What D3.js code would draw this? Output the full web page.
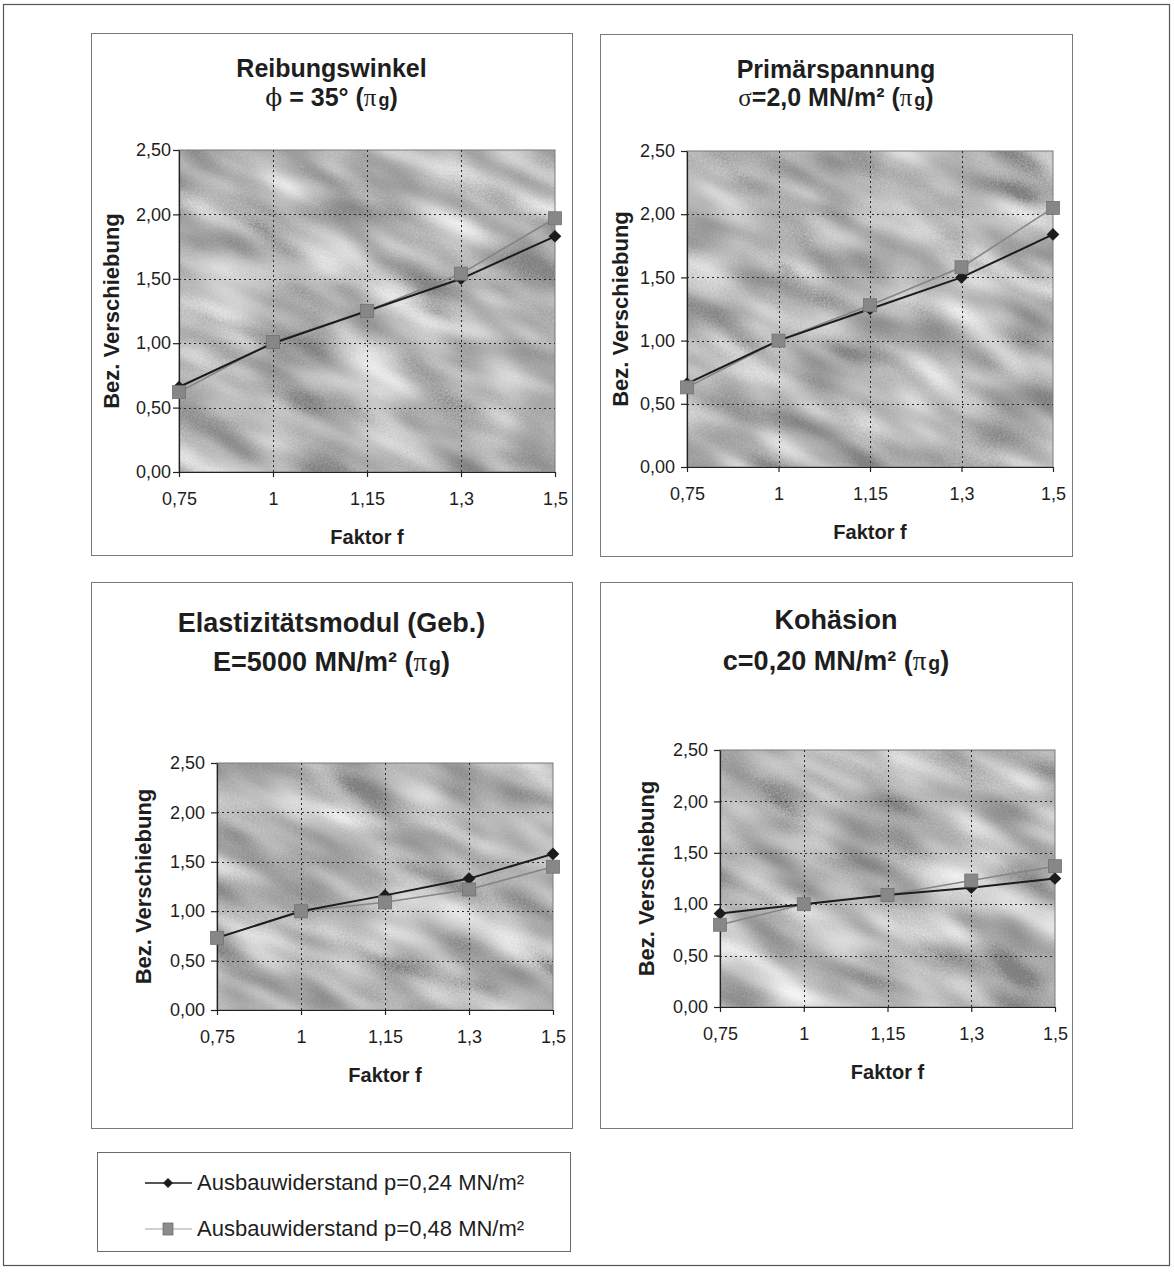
<!DOCTYPE html>
<html>
<head>
<meta charset="utf-8">
<script src="https://cdn.jsdelivr.net/npm/d3@7"></script>
<style>
  body { margin: 0; background: #fff; }
  text { font-family: "Liberation Sans", Arial, sans-serif; fill: #1e1e1e; }
</style>
</head>
<body>
<div id="chart"></div>
<script>
// Data
var factors = ["0,75", "1", "1,15", "1,3", "1,5"];
var yTicks = [0, 0.5, 1, 1.5, 2, 2.5];
var seriesNames = ["Ausbauwiderstand p=0,24 MN/m²", "Ausbauwiderstand p=0,48 MN/m²"];

var reibungP24 = [0.66, 1.00, 1.25, 1.50, 1.83];
var reibungP48 = [0.62, 1.01, 1.25, 1.54, 1.97];
var primaerP24 = [0.66, 1.00, 1.25, 1.50, 1.84];
var primaerP48 = [0.63, 1.00, 1.28, 1.58, 2.05];
var emodulP24 = [0.73, 1.00, 1.16, 1.33, 1.58];
var emodulP48 = [0.73, 1.00, 1.09, 1.22, 1.45];
var kohaesionP24 = [0.91, 1.00, 1.09, 1.16, 1.25];
var kohaesionP48 = [0.80, 1.00, 1.09, 1.23, 1.37];

var titles = ["Reibungswinkel", "Primärspannung", "Elastizitätsmodul (Geb.)", "Kohäsion"];
// second title line: pieces, sym = symbol glyph, small = small "g"
var subtitles = [
  [{t: "ϕ", sym: "DejaVu Serif"}, {t: " = 35° ("}, {t: "π", sym: "Liberation Serif"}, {t: "g", small: true}, {t: ")"}],
  [{t: "σ", sym: "Liberation Serif"}, {t: "=2,0 MN/m² ("}, {t: "π", sym: "Liberation Serif"}, {t: "g", small: true}, {t: ")"}],
  [{t: "E=5000 MN/m² ("}, {t: "π", sym: "Liberation Serif"}, {t: "g", small: true}, {t: ")"}],
  [{t: "c=0,20 MN/m² ("}, {t: "π", sym: "Liberation Serif"}, {t: "g", small: true}, {t: ")"}]
];
var seriesA = [reibungP24, primaerP24, emodulP24, kohaesionP24];
var seriesB = [reibungP48, primaerP48, emodulP48, kohaesionP48];

// layout of the four panels
var layout = [
  {frame: [91, 33, 572, 555], plot: [179, 150, 555, 472], t1: 77, t2: 106, ts: 25, ypad: 2, ylab: 60},
  {frame: [600, 34, 1072, 556], plot: [687, 151, 1053, 467], t1: 78, t2: 106, ts: 25, ypad: 6, ylab: 59},
  {frame: [91, 582, 572, 1128], plot: [217, 763, 553, 1010], t1: 632, t2: 671, ts: 27, ypad: 6, ylab: 66},
  {frame: [600, 582, 1072, 1128], plot: [720, 750, 1055, 1007], t1: 629, t2: 670, ts: 27, ypad: 6, ylab: 66}
];

var svgWidth = 1174, svgHeight = 1281;
var fmt = d3.formatLocale({decimal: ",", thousands: ".", grouping: [3], currency: ["", " €"]}).format(".2f");

var svg = d3.select("#chart").append("svg")
  .attr("width", svgWidth)
  .attr("height", svgHeight);
var defs = svg.append("defs");

// outer frame
svg.append("rect")
  .attr("x", 3.5).attr("y", 4.5)
  .attr("width", 1166).attr("height", 1261)
  .attr("fill", "none").attr("stroke", "#555").attr("stroke-width", 1.2);

layout.forEach(function(L, i) {
  var x0 = L.plot[0], y0 = L.plot[1], x1 = L.plot[2], y1 = L.plot[3];
  var x = d3.scalePoint().domain(factors).range([x0, x1]);
  var y = d3.scaleLinear().domain([0, 2.5]).range([y1, y0]);
  var cx = (L.frame[0] + L.frame[2]) / 2;

  // panel frame
  svg.append("rect")
    .attr("x", L.frame[0] + 0.5).attr("y", L.frame[1] + 0.5)
    .attr("width", L.frame[2] - L.frame[0]).attr("height", L.frame[3] - L.frame[1])
    .attr("fill", "none").attr("stroke", "#7a7a7a").attr("stroke-width", 1);

  // titles
  svg.append("text")
    .attr("x", cx).attr("y", L.t1)
    .attr("text-anchor", "middle")
    .style("font-size", L.ts + "px").style("font-weight", "bold")
    .text(titles[i]);
  var sub = svg.append("text")
    .attr("x", cx).attr("y", L.t2)
    .attr("text-anchor", "middle")
    .style("font-size", L.ts + "px").style("font-weight", "bold");
  subtitles[i].forEach(function(s) {
    var ts = sub.append("tspan").text(s.t);
    if (s.sym) ts.style("font-family", "'" + s.sym + "', serif").style("font-weight", "normal");
    if (s.small) ts.style("font-size", (L.ts * 0.72) + "px").attr("dx", 2);
  });

  // textured plot background
  var w = x1 - x0, h = y1 - y0, diag = Math.hypot(w, h);
  defs.append("clipPath").attr("id", "clip" + i)
    .append("rect").attr("x", x0).attr("y", y0).attr("width", w).attr("height", h);
  var f = defs.append("filter").attr("id", "tex" + i)
    .attr("x", 0).attr("y", 0).attr("width", 1).attr("height", 1)
    .attr("color-interpolation-filters", "sRGB");
  f.append("feTurbulence").attr("type", "fractalNoise")
    .attr("baseFrequency", "0.011 0.03").attr("numOctaves", 2).attr("seed", 5 + i * 11).attr("result", "big");
  f.append("feTurbulence").attr("type", "fractalNoise")
    .attr("baseFrequency", "0.7").attr("numOctaves", 1).attr("seed", 2 + i).attr("result", "grain");
  f.append("feComposite").attr("in", "big").attr("in2", "grain").attr("operator", "arithmetic")
    .attr("k1", 0).attr("k2", 1).attr("k3", 0.28).attr("k4", -0.14).attr("result", "mix");
  f.append("feColorMatrix").attr("in", "mix").attr("type", "matrix")
    .attr("values", "0.6 0 0 0 0.5  0.6 0 0 0 0.5  0.6 0 0 0 0.5  0 0 0 0 1");
  svg.append("g").attr("clip-path", "url(#clip" + i + ")")
    .append("g").attr("transform", "rotate(25 " + (x0 + w / 2) + " " + (y0 + h / 2) + ")")
    .append("rect")
    .attr("x", x0 + w / 2 - diag / 2).attr("y", y0 + h / 2 - diag / 2)
    .attr("width", diag).attr("height", diag)
    .attr("fill", "#c6c6c6")
    .attr("filter", "url(#tex" + i + ")");

  // plot border
  svg.append("rect")
    .attr("x", x0).attr("y", y0).attr("width", w).attr("height", h)
    .attr("fill", "none").attr("stroke", "#7a7a7a").attr("stroke-width", 1);

  // dotted grid
  var grid = svg.append("g").attr("stroke", "#2a2a2a").attr("stroke-width", 1).attr("stroke-dasharray", "2,3");
  yTicks.filter(function(t) { return t > 0 && t < 2.5; }).forEach(function(t) {
    grid.append("line").attr("x1", x0).attr("x2", x1).attr("y1", Math.round(y(t)) + 0.5).attr("y2", Math.round(y(t)) + 0.5);
  });
  factors.slice(1, -1).forEach(function(c) {
    grid.append("line").attr("y1", y0).attr("y2", y1).attr("x1", Math.round(x(c)) + 0.5).attr("x2", Math.round(x(c)) + 0.5);
  });

  // axes
  var yAxis = svg.append("g").attr("transform", "translate(" + x0 + ",0)")
    .call(d3.axisLeft(y).tickValues(yTicks).tickFormat(fmt).tickSize(6).tickPadding(L.ypad).tickSizeOuter(0));
  var xAxis = svg.append("g").attr("transform", "translate(0," + y1 + ")")
    .call(d3.axisBottom(x).tickSize(5).tickPadding(15).tickSizeOuter(0));
  [yAxis, xAxis].forEach(function(a) {
    a.attr("font-family", null).attr("font-size", null);
    a.selectAll("path, line").attr("stroke", "#222").attr("stroke-width", 1.2);
    a.selectAll("text").style("font-size", "18px").attr("fill", "#222");
  });

  // axis titles
  svg.append("text")
    .attr("transform", "translate(" + (x0 - L.ylab) + "," + (y0 + h / 2) + ") rotate(-90)")
    .attr("text-anchor", "middle")
    .style("font-size", "22px").style("font-weight", "bold")
    .text("Bez. Verschiebung");
  svg.append("text")
    .attr("x", x0 + w / 2).attr("y", y1 + 72)
    .attr("text-anchor", "middle")
    .style("font-size", "20px").style("font-weight", "bold")
    .text("Faktor f");

  // series lines
  var line = d3.line().x(function(d, j) { return x(factors[j]); }).y(function(d) { return y(d); });
  svg.append("path").datum(seriesB[i]).attr("d", line)
    .attr("fill", "none").attr("stroke", "#858585").attr("stroke-width", 1.6);
  svg.append("path").datum(seriesA[i]).attr("d", line)
    .attr("fill", "none").attr("stroke", "#1c1c1c").attr("stroke-width", 2);

  // markers
  svg.append("g").selectAll("path").data(seriesA[i]).enter().append("path")
    .attr("d", d3.symbol().type(d3.symbolSquare).size(80))
    .attr("transform", function(d, j) { return "translate(" + x(factors[j]) + "," + y(d) + ") rotate(45)"; })
    .attr("fill", "#1c1c1c");
  svg.append("g").selectAll("rect").data(seriesB[i]).enter().append("rect")
    .attr("x", function(d, j) { return x(factors[j]) - 6.5; })
    .attr("y", function(d) { return y(d) - 6.5; })
    .attr("width", 13).attr("height", 13)
    .attr("fill", "#878787").attr("stroke", "#737373").attr("stroke-width", 0.8);
});

// legend
var leg = svg.append("g");
leg.append("rect")
  .attr("x", 97.5).attr("y", 1152.5).attr("width", 473).attr("height", 99)
  .attr("fill", "none").attr("stroke", "#6a6a6a").attr("stroke-width", 1);
var legY = [1183, 1229];
seriesNames.forEach(function(name, k) {
  var ly = legY[k];
  leg.append("line").attr("x1", 145).attr("x2", 192).attr("y1", ly).attr("y2", ly)
    .attr("stroke", k === 0 ? "#1c1c1c" : "#a0a0a0").attr("stroke-width", k === 0 ? 1.6 : 1.2);
  if (k === 0) {
    leg.append("path").attr("d", d3.symbol().type(d3.symbolSquare).size(50))
      .attr("transform", "translate(168," + ly + ") rotate(45)").attr("fill", "#1c1c1c");
  } else {
    leg.append("rect").attr("x", 163).attr("y", ly - 6).attr("width", 10).attr("height", 12)
      .attr("fill", "#8c8c8c").attr("stroke", "#6e6e6e").attr("stroke-width", 0.8);
  }
  leg.append("text").attr("x", 197).attr("y", ly + 7)
    .style("font-size", "22px")
    .text(name);
});
</script>
</body>
</html>
